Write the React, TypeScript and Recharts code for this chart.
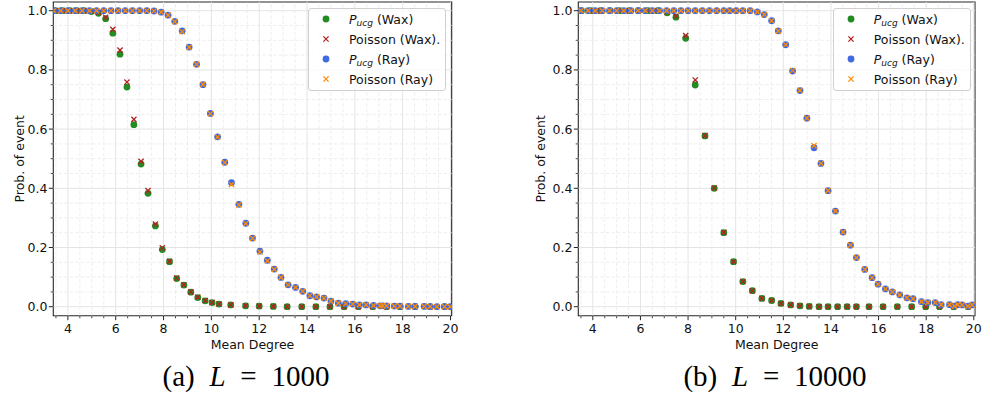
import React from 'react';
import { ScatterChart, Scatter, XAxis, YAxis, ReferenceLine, ReferenceArea, Legend } from 'recharts';

// ---------- data: panel (a) L = 1000 ----------
const waxX_a = [3.48, 3.78, 4.08, 4.38, 4.68, 4.98, 5.28, 5.58, 5.88, 6.18, 6.47, 6.76, 7.06, 7.35, 7.66, 7.95, 8.25, 8.55, 8.85, 9.14, 9.43, 9.74, 10.03, 10.32, 10.81, 11.43, 12.0, 12.59, 13.17, 13.78, 14.37, 14.96, 15.55, 16.15, 16.75, 17.33, 17.89, 18.52, 19.15, 19.75];
const waxUcg_a = [1, 1, 1, 1, 1, 0.997, 0.991, 0.973, 0.924, 0.853, 0.742, 0.615, 0.482, 0.383, 0.273, 0.193, 0.152, 0.095, 0.073, 0.049, 0.031, 0.02, 0.014, 0.009, 0.006, 0.003, 0.002, 0.001, 0, 0, 0, 0, 0, 0, 0, 0, 0, 0, 0, 0];
const waxPoisson_a = [1, 1, 1, 1, 1, 0.998, 0.994, 0.978, 0.937, 0.867, 0.759, 0.633, 0.491, 0.392, 0.279, 0.199, 0.153, 0.097, 0.074, 0.05, 0.032, 0.021, 0.014, 0.009, 0.006, 0.003, 0.002, 0.001, 0, 0, 0, 0, 0, 0, 0, 0, 0, 0, 0, 0];
const rayX_a = [3.4, 3.7, 4.0, 4.3, 4.6, 4.9, 5.2, 5.5, 5.8, 6.1, 6.4, 6.7, 7.0, 7.3, 7.6, 7.9, 8.19, 8.47, 8.78, 9.07, 9.38, 9.65, 9.96, 10.26, 10.56, 10.84, 11.15, 11.44, 11.72, 12.03, 12.34, 12.63, 12.91, 13.21, 13.52, 13.82, 14.12, 14.4, 14.71, 15.0, 15.31, 15.62, 15.91, 16.19, 16.47, 16.78, 17.06, 17.17, 17.33, 17.65, 17.89, 18.24, 18.52, 18.9, 19.15, 19.43, 19.75, 19.99];
const rayUcg_a = [1, 1, 1, 1, 1, 1, 1, 1, 1, 1, 1, 1, 1, 1, 0.999, 0.995, 0.985, 0.964, 0.932, 0.877, 0.819, 0.75, 0.653, 0.574, 0.488, 0.419, 0.346, 0.282, 0.232, 0.188, 0.157, 0.127, 0.099, 0.074, 0.065, 0.052, 0.037, 0.033, 0.029, 0.019, 0.012, 0.01, 0.009, 0.006, 0.006, 0.004, 0.003, 0.003, 0.003, 0.002, 0.002, 0.001, 0.001, 0.001, 0, 0, 0, 0];
const rayPoisson_a = [1, 1, 1, 1, 1, 1, 1, 1, 1, 1, 1, 1, 1, 1, 0.999, 0.995, 0.985, 0.963, 0.929, 0.876, 0.819, 0.751, 0.652, 0.573, 0.487, 0.413, 0.344, 0.281, 0.231, 0.185, 0.155, 0.126, 0.099, 0.074, 0.065, 0.052, 0.037, 0.033, 0.029, 0.019, 0.012, 0.01, 0.009, 0.006, 0.006, 0.004, 0.003, 0.003, 0.003, 0.002, 0.002, 0.001, 0.001, 0.001, 0, 0, 0, 0];

// ---------- data: panel (b) L = 10000 ----------
const waxX_b = [3.52, 3.92, 4.32, 4.72, 5.12, 5.52, 5.92, 6.32, 6.72, 7.12, 7.49, 7.9, 8.3, 8.71, 9.1, 9.5, 9.91, 10.3, 10.7, 11.1, 11.51, 11.9, 12.31, 12.7, 13.09, 13.5, 13.88, 14.28, 14.68, 15.07, 15.6, 16.19, 16.79, 17.39, 17.98, 18.56, 19.16, 19.76];
const waxUcg_b = [1, 1, 1, 1, 1, 1, 1, 1, 1, 0.993, 0.978, 0.907, 0.749, 0.577, 0.4, 0.25, 0.152, 0.085, 0.054, 0.028, 0.021, 0.011, 0.006, 0.003, 0.001, 0, 0, 0, 0, 0, 0, 0, 0, 0, 0, 0, 0, 0];
const waxPoisson_b = [1, 1, 1, 1, 1, 1, 1, 1, 1, 0.995, 0.982, 0.916, 0.766, 0.578, 0.401, 0.251, 0.152, 0.085, 0.054, 0.028, 0.021, 0.011, 0.006, 0.003, 0.001, 0, 0, 0, 0, 0, 0, 0, 0, 0, 0, 0, 0, 0];
const rayX_b = [3.5, 3.8, 4.1, 4.4, 4.7, 5.0, 5.3, 5.6, 5.9, 6.2, 6.5, 6.8, 7.1, 7.4, 7.7, 8.0, 8.3, 8.6, 8.9, 9.2, 9.5, 9.75, 10.02, 10.3, 10.61, 10.91, 11.2, 11.51, 11.79, 12.1, 12.39, 12.7, 12.99, 13.29, 13.58, 13.88, 14.19, 14.51, 14.82, 15.07, 15.42, 15.73, 15.98, 16.29, 16.58, 16.89, 17.19, 17.45, 17.8, 18.07, 18.38, 18.63, 18.98, 19.19, 19.33, 19.51, 19.75, 19.93];
const rayUcg_b = [1, 1, 1, 1, 1, 1, 1, 1, 1, 1, 1, 1, 1, 1, 1, 1, 1, 1, 1, 1, 1, 1, 1, 1, 1, 0.996, 0.987, 0.966, 0.932, 0.885, 0.796, 0.73, 0.637, 0.537, 0.484, 0.392, 0.323, 0.252, 0.208, 0.166, 0.126, 0.098, 0.076, 0.06, 0.05, 0.04, 0.03, 0.027, 0.017, 0.014, 0.014, 0.007, 0.007, 0.002, 0.007, 0.006, 0.002, 0.006];
const rayPoisson_b = [1, 1, 1, 1, 1, 1, 1, 1, 1, 1, 1, 1, 1, 1, 1, 1, 1, 1, 1, 1, 1, 1, 1, 1, 1, 0.996, 0.987, 0.966, 0.931, 0.885, 0.798, 0.731, 0.637, 0.544, 0.484, 0.392, 0.323, 0.252, 0.208, 0.166, 0.126, 0.098, 0.076, 0.06, 0.05, 0.04, 0.03, 0.027, 0.017, 0.014, 0.014, 0.007, 0.007, 0.002, 0.007, 0.006, 0.002, 0.006];

// ---------- ticks / labels ----------
const xMajorTicks = [4, 6, 8, 10, 12, 14, 16, 18, 20];
const xMinorTicks = [3.5, 4.5, 5, 5.5, 6.5, 7, 7.5, 8.5, 9, 9.5, 10.5, 11, 11.5, 12.5, 13, 13.5, 14.5, 15, 15.5, 16.5, 17, 17.5, 18.5, 19, 19.5];
const yMajorTicks = [0, 0.2, 0.4, 0.6, 0.8, 1.0];
const yMinorTicks = [0.05, 0.1, 0.15, 0.25, 0.3, 0.35, 0.45, 0.5, 0.55, 0.65, 0.7, 0.75, 0.85, 0.9, 0.95];
const xLabel = 'Mean Degree';
const yLabel = 'Prob. of event';
const captions = [
  { tag: '(a)', L: '1000' },
  { tag: '(b)', L: '10000' },
];

const X_MIN = 3.39;
const X_MAX = 20.05;
const Y_MIN = -0.0304;
const Y_MAX = 1.0294;

const FONT = "'DejaVu Sans', sans-serif";
const GREEN = '#228b22';
const RED = '#b22222';
const BLUE = '#4169e1';
const ORANGE = '#ff8c00';
const SPINE = '#262626';

const allXTicks = [...xMajorTicks, ...xMinorTicks].sort((a, b) => a - b);
const allYTicks = [...yMajorTicks, ...yMinorTicks].sort((a, b) => a - b);
const isMultiple = (v: number, step: number) => Math.abs(v / step - Math.round(v / step)) < 1e-6;
const toPts = (xs: number[], ys: number[]) => xs.map((x, i) => ({ x, y: ys[i] }));

const dotShape = (color: string) => (props: any) => {
  const { cx, cy } = props;
  if (cx == null || cy == null) return <g />;
  return <circle cx={cx} cy={cy} r={3.4} fill={color} />;
};
const crossShape = (color: string) => (props: any) => {
  const { cx, cy } = props;
  if (cx == null || cy == null) return <g />;
  const s = 2.6;
  return (
    <path
      d={`M${cx - s},${cy - s}L${cx + s},${cy + s}M${cx - s},${cy + s}L${cx + s},${cy - s}`}
      stroke={color}
      strokeWidth={1.3}
      fill="none"
    />
  );
};

const XTick = (props: any) => {
  const { x, y, payload } = props;
  const v = payload.value;
  const major = isMultiple(v, 2);
  return (
    <g>
      <line x1={x} x2={x} y1={y} y2={y + (major ? 4.5 : 2.6)} stroke={SPINE} strokeWidth={major ? 1 : 0.8} />
      {major && (
        <text x={x} y={y + 17.3} textAnchor="middle" fontFamily={FONT} fontSize={12.5} fill="#111">
          {v}
        </text>
      )}
    </g>
  );
};

const YTick = (props: any) => {
  const { x, y, payload } = props;
  const v = payload.value;
  const major = isMultiple(v, 0.2);
  return (
    <g>
      <line x1={x} x2={x - (major ? 4.5 : 2.6)} y1={y} y2={y} stroke={SPINE} strokeWidth={major ? 1 : 0.8} />
      {major && (
        <text x={x - 5.8} y={y + 4.4} textAnchor="end" fontFamily={FONT} fontSize={12.5} fill="#111">
          {v.toFixed(1)}
        </text>
      )}
    </g>
  );
};

const PucgLabel = ({ which }: { which: string }) => (
  <span>
    <span style={{ fontStyle: 'italic' }}>P</span>
    <span style={{ fontStyle: 'italic', fontSize: '0.72em', position: 'relative', top: '0.28em' }}>ucg</span>
    {` (${which})`}
  </span>
);

const LEGEND_ITEMS = [
  { key: 'wu', color: GREEN, marker: 'dot', label: <PucgLabel which="Wax" /> },
  { key: 'wp', color: RED, marker: 'cross', label: <span>Poisson (Wax).</span> },
  { key: 'ru', color: BLUE, marker: 'dot', label: <PucgLabel which="Ray" /> },
  { key: 'rp', color: ORANGE, marker: 'cross', label: <span>Poisson (Ray)</span> },
];

const LegendBox = () => (
  <div
    style={{
      width: 138,
      height: 83,
      boxSizing: 'border-box',
      border: '1px solid #d0d0d0',
      borderRadius: 3,
      background: 'rgba(255,255,255,0.8)',
      fontFamily: FONT,
      fontSize: 12.5,
      color: '#111',
    }}
  >
    {LEGEND_ITEMS.map((it) => (
      <div key={it.key} style={{ height: 20, display: 'flex', alignItems: 'center', whiteSpace: 'nowrap' }}>
        <svg width={40} height={20} style={{ flex: 'none' }}>
          {it.marker === 'dot' ? dotShape(it.color)({ cx: 17, cy: 10 }) : crossShape(it.color)({ cx: 17, cy: 10 })}
        </svg>
        {it.label}
      </div>
    ))}
  </div>
);

type PanelProps = {
  left: number;
  width: number;
  marginLeft: number;
  marginRight: number;
  legendLeft: number;
  yLabelGap: number;
  waxX: number[];
  waxUcg: number[];
  waxPoisson: number[];
  rayX: number[];
  rayUcg: number[];
  rayPoisson: number[];
};

const CHART_H = 360;
const Y_AXIS_W = 45;

function Panel(p: PanelProps) {
  const series = [
    { key: 'wu', name: 'P_ucg (Wax)', data: toPts(p.waxX, p.waxUcg), shape: dotShape(GREEN), color: GREEN },
    { key: 'wp', name: 'Poisson (Wax).', data: toPts(p.waxX, p.waxPoisson), shape: crossShape(RED), color: RED },
    { key: 'ru', name: 'P_ucg (Ray)', data: toPts(p.rayX, p.rayUcg), shape: dotShape(BLUE), color: BLUE },
    { key: 'rp', name: 'Poisson (Ray)', data: toPts(p.rayX, p.rayPoisson), shape: crossShape(ORANGE), color: ORANGE },
  ];
  return (
    <div style={{ position: 'absolute', left: p.left, top: 0 }}>
      <ScatterChart
        width={p.width}
        height={CHART_H}
        margin={{ top: 2, right: p.marginRight, bottom: 14.3, left: p.marginLeft }}
      >
        <XAxis
          type="number"
          dataKey="x"
          domain={[X_MIN, X_MAX]}
          allowDataOverflow
          ticks={allXTicks}
          interval={0}
          tickSize={0}
          tickMargin={0}
          tickLine={false}
          axisLine={false}
          height={30}
          tick={(props: any) => <XTick {...props} />}
          label={(props: any) => {
            const vb = props.viewBox || {};
            return (
              <text x={vb.x + vb.width / 2} y={vb.y + 32.8} textAnchor="middle" fontFamily={FONT} fontSize={12.5} fill="#111">
                {xLabel}
              </text>
            );
          }}
        />
        <YAxis
          type="number"
          dataKey="y"
          domain={[Y_MIN, Y_MAX]}
          allowDataOverflow
          ticks={allYTicks}
          interval={0}
          tickSize={0}
          tickMargin={0}
          tickLine={false}
          axisLine={false}
          width={Y_AXIS_W}
          tick={(props: any) => <YTick {...props} />}
          label={(props: any) => {
            const vb = props.viewBox || {};
            const lx = vb.x + vb.width - p.yLabelGap;
            const ly = vb.y + vb.height / 2;
            return (
              <text
                x={lx}
                y={ly}
                transform={`rotate(-90, ${lx}, ${ly})`}
                textAnchor="middle"
                fontFamily={FONT}
                fontSize={12.5}
                fill="#111"
              >
                {yLabel}
              </text>
            );
          }}
        />
        {xMinorTicks.map((v) => (
          <ReferenceLine key={`xm${v}`} x={v} stroke="#ececec" strokeWidth={0.9} strokeDasharray="3.5 2" />
        ))}
        {yMinorTicks.map((v) => (
          <ReferenceLine key={`ym${v}`} y={v} stroke="#ececec" strokeWidth={0.9} strokeDasharray="3.5 2" />
        ))}
        {xMajorTicks.map((v) => (
          <ReferenceLine key={`xM${v}`} x={v} stroke="#e4e4e4" strokeWidth={1} />
        ))}
        {yMajorTicks.map((v) => (
          <ReferenceLine key={`yM${v}`} y={v} stroke="#e4e4e4" strokeWidth={1} />
        ))}
        <ReferenceArea
          x1={X_MIN}
          x2={X_MAX}
          y1={Y_MIN}
          y2={Y_MAX}
          fill="none"
          fillOpacity={0}
          stroke={SPINE}
          strokeWidth={1.1}
          ifOverflow="visible"
        />
        {series.map((s) => (
          <Scatter
            key={s.key}
            name={s.name}
            data={s.data}
            fill={s.color}
            shape={s.shape}
            isAnimationActive={false}
          />
        ))}
        <Legend
          layout="vertical"
          align="center"
          verticalAlign="middle"
          wrapperStyle={{ left: p.legendLeft, top: 8, width: 138, height: 83 }}
          content={() => <LegendBox />}
        />
      </ScatterChart>
    </div>
  );
}

export default function App() {
  return (
    <div style={{ position: 'absolute', left: 0, top: 0, width: 982, height: 412, background: '#fff' }}>
      <Panel
        left={0}
        width={470}
        marginLeft={53.3 - Y_AXIS_W}
        marginRight={470 - 451.7}
        legendLeft={308}
        yLabelGap={28.8}
        waxX={waxX_a}
        waxUcg={waxUcg_a}
        waxPoisson={waxPoisson_a}
        rayX={rayX_a}
        rayUcg={rayUcg_a}
        rayPoisson={rayPoisson_a}
      />
      <Panel
        left={520}
        width={462}
        marginLeft={578.3 - 520 - Y_AXIS_W}
        marginRight={7}
        legendLeft={312.7}
        yLabelGap={33.3}
        waxX={waxX_b}
        waxUcg={waxUcg_b}
        waxPoisson={waxPoisson_b}
        rayX={rayX_b}
        rayUcg={rayUcg_b}
        rayPoisson={rayPoisson_b}
      />
      <svg width={982} height={412} style={{ position: 'absolute', left: 0, top: 0, pointerEvents: 'none' }}>
        {captions.map((c, i) => (
          <text
            key={c.tag}
            x={i === 0 ? 246 : 775}
            y={386}
            textAnchor="middle"
            fontFamily="'Liberation Serif', serif"
            fontSize={29}
            fill="#000"
            style={{ wordSpacing: '7.5px' }}
          >
            {c.tag}{' '}
            <tspan fontStyle="italic">L</tspan>
            {' = '}
            {c.L}
          </text>
        ))}
      </svg>
    </div>
  );
}
